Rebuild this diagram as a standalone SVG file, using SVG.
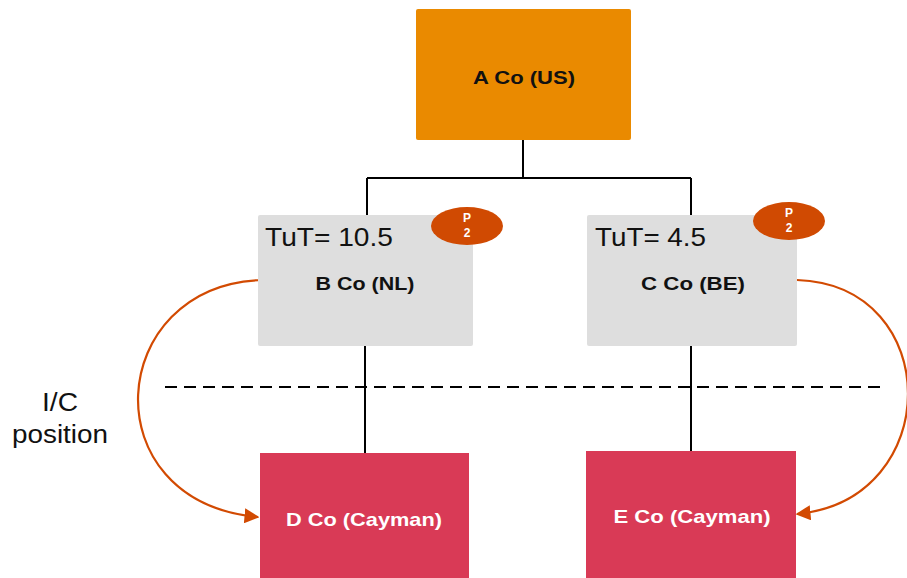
<svg xmlns="http://www.w3.org/2000/svg" width="907" height="578" viewBox="0 0 907 578">
<defs>
<style>
.lbl{font-family:"Liberation Sans",Arial,sans-serif;font-weight:bold;text-anchor:middle}
.tut{font-family:"Liberation Sans",Arial,sans-serif;font-size:26px;fill:#111}
.conn{stroke:#000;stroke-width:2;fill:none}
.ic{stroke:#D24A02;stroke-width:2.2;fill:none}
.badge{fill:#D04A02}
.btxt{font-family:"Liberation Sans",Arial,sans-serif;font-weight:bold;font-size:12px;fill:#fff;text-anchor:middle}
</style>
<marker id="ah" viewBox="0 0 10 10" refX="9" refY="5" markerWidth="15" markerHeight="15" orient="auto" markerUnits="userSpaceOnUse">
<path d="M0,0 L10,5 L0,10 z" fill="#D24A02"/>
</marker>
</defs>
<rect width="907" height="578" fill="#fff"/>
<g id="connectors">
<path class="conn" d="M523,140 V178 M367,178 H691 M367,178 V216 M691,178 V216"/>
<path class="conn" d="M365,346 V453 M691,346 V451"/>
<line x1="165" y1="387" x2="883" y2="387" stroke="#000" stroke-width="2" stroke-dasharray="12,7"/>
<path class="ic" marker-end="url(#ah)" d="M262,280 C105,285 90,502 258,517"/>
<path class="ic" marker-end="url(#ah)" d="M797,280 C945,285 945,500 797,514"/>
</g>
<g id="A">
<rect x="416" y="9" width="215" height="131" rx="2" fill="#EA8A00"/>
<text class="lbl" x="524" y="84" font-size="19" fill="#111" textLength="102" lengthAdjust="spacingAndGlyphs">A Co (US)</text>
</g>
<g id="B">
<rect x="258" y="215" width="215" height="131" rx="2" fill="#DEDEDE"/>
<text class="tut" x="265" y="246" textLength="128" lengthAdjust="spacingAndGlyphs">TuT= 10.5</text>
<text class="lbl" x="365" y="290" font-size="19" fill="#111" textLength="99" lengthAdjust="spacingAndGlyphs">B Co (NL)</text>
<ellipse class="badge" cx="467" cy="226" rx="36" ry="19"/>
<text class="btxt" x="467" y="222">P</text>
<text class="btxt" x="467" y="237">2</text>
</g>
<g id="C">
<rect x="587" y="215" width="210" height="131" rx="2" fill="#DEDEDE"/>
<text class="tut" x="595" y="246" textLength="111" lengthAdjust="spacingAndGlyphs">TuT= 4.5</text>
<text class="lbl" x="693" y="290" font-size="19" fill="#111" textLength="104" lengthAdjust="spacingAndGlyphs">C Co (BE)</text>
<ellipse class="badge" cx="789" cy="221" rx="36" ry="19"/>
<text class="btxt" x="789" y="217">P</text>
<text class="btxt" x="789" y="232">2</text>
</g>
<g id="D">
<rect x="260" y="453" width="209" height="125" fill="#D93A56"/>
<text class="lbl" x="364" y="526" font-size="19" fill="#fff" textLength="156" lengthAdjust="spacingAndGlyphs">D Co (Cayman)</text>
</g>
<g id="E">
<rect x="586" y="451" width="210" height="127" fill="#D93A56"/>
<text class="lbl" x="692" y="523" font-size="19" fill="#fff" textLength="157" lengthAdjust="spacingAndGlyphs">E Co (Cayman)</text>
</g>
<g id="ic-label">
<text class="tut" x="60" y="411" text-anchor="middle" font-size="25" textLength="36" lengthAdjust="spacingAndGlyphs">I/C</text>
<text class="tut" x="60" y="443" text-anchor="middle" font-size="25" textLength="96" lengthAdjust="spacingAndGlyphs">position</text>
</g>
</svg>
